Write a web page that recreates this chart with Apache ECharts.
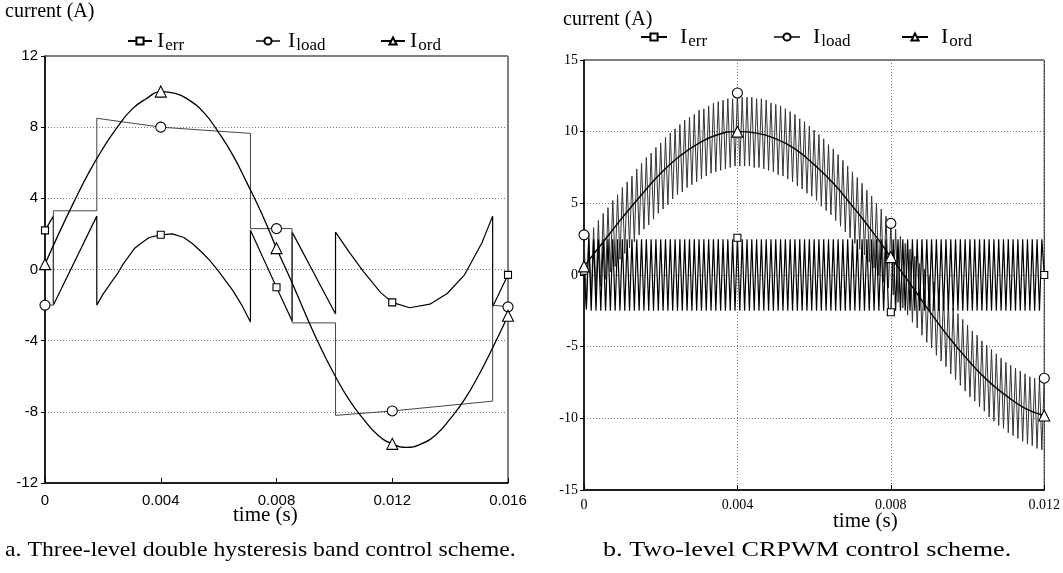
<!DOCTYPE html>
<html><head><meta charset="utf-8">
<script src="https://cdn.jsdelivr.net/npm/echarts/dist/echarts.min.js"></script>
<style>html,body{margin:0;padding:0;background:#fff}#c{width:1063px;height:573px}</style>
</head><body><div id="c"></div>
<script>
// ---------- Panel a: three-level double hysteresis band ----------
const leftOrdT = [0,0.0005,0.001,0.0015,0.002,0.0025,0.003,0.0035,0.004,0.0045,0.005,0.0055,0.006,0.0065,0.007,0.0075,0.008,0.0085,0.009,0.0095,0.010,0.0105,0.011,0.0115,0.012,0.0125,0.013,0.0135,0.014,0.0145,0.015,0.0155,0.016];
const leftOrd  = [0.3,2.1,3.8,5.4,6.8,8.0,9.0,9.6,10.0,9.9,9.5,8.8,7.7,6.4,4.8,3.1,1.2,-0.6,-2.5,-4.3,-5.9,-7.3,-8.4,-9.3,-9.8,-10.0,-9.8,-9.3,-8.4,-7.3,-5.9,-4.3,-2.6];

const leftErrT = [0,0.00029,0.00029,0.00179,0.00179,0.002,0.0023,0.0025,0.0027,0.0031,0.0033,0.0036,0.004,0.0044,0.0048,0.0051,0.0054,0.0057,0.006,0.0065,0.0068,0.0071,0.0071,0.008,0.00854,0.00854,0.01004,0.01004,0.0105,0.011,0.0116,0.012,0.0126,0.0133,0.0139,0.0145,0.0151,0.01547,0.01547,0.016];
const leftErr  = [2.2,3.0,-2.0,3.0,-2.0,-1.4,-0.7,-0.25,0.3,1.2,1.45,1.8,1.95,2.0,1.8,1.45,1.0,0.5,-0.1,-1.2,-2.0,-2.95,2.2,-1.0,-2.9,2.1,-2.5,2.1,1.0,-0.1,-1.3,-1.85,-2.15,-1.95,-1.35,-0.3,1.5,3.0,-2.1,-0.3];

const leftLoadT = [0,0.00029,0.00029,0.00179,0.00179,0.004,0.0071,0.0071,0.008,0.00854,0.00854,0.01004,0.01004,0.012,0.01547,0.01547,0.016];
const leftLoad  = [-2.0,-2.0,3.3,3.3,8.5,8.0,7.65,2.3,2.3,2.3,-3.0,-3.0,-8.2,-7.95,-7.4,-2.0,-2.1];

const leftTicks = [0,0.004,0.008,0.012,0.016];

// ---------- Panel b: two-level CRPWM ----------
const rightStep = 0.0000625; // sampling step of the ripple traces
const rightErr = [
 0.3,-2.4,2.5,-2.5,2.5,-2.5,2.5,-2.5,2.5,-2.5,2.5,-2.5,2.5,-2.5,2.5,-2.5,
 2.5,-2.5,2.5,-2.5,2.5,-2.5,2.5,-2.5,2.5,-2.5,2.5,-2.5,2.5,-2.5,2.5,-2.5,
 2.5,-2.5,2.5,-2.5,2.5,-2.5,2.5,-2.5,2.5,-2.5,2.5,-2.5,2.5,-2.5,2.5,-2.5,
 2.5,-2.5,2.5,-2.5,2.5,-2.5,2.5,-2.5,2.5,-2.5,2.5,-2.5,2.5,-2.5,2.5,-2.5,
 2.6,-2.5,2.5,-2.5,2.5,-2.5,2.5,-2.5,2.5,-2.5,2.5,-2.5,2.5,-2.5,2.5,-2.5,
 2.5,-2.5,2.5,-2.5,2.5,-2.5,2.5,-2.5,2.5,-2.5,2.5,-2.5,2.5,-2.5,2.5,-2.5,
 2.5,-2.5,2.5,-2.5,2.5,-2.5,2.5,-2.5,2.5,-2.5,2.5,-2.5,2.5,-2.5,2.5,-2.5,
 2.5,-2.5,2.5,-2.5,2.5,-2.5,2.5,-2.5,2.5,-2.5,2.5,-2.5,2.5,-2.5,2.5,-2.5,
 -2.6,2.5,-2.5,2.5,-2.5,2.5,-2.5,2.5,-2.5,2.5,-2.5,2.5,-2.5,2.5,-2.5,2.5,
 -2.5,2.5,-2.5,2.5,-2.5,2.5,-2.5,2.5,-2.5,2.5,-2.5,2.5,-2.5,2.5,-2.5,2.5,
 -2.5,2.5,-2.5,2.5,-2.5,2.5,-2.5,2.5,-2.5,2.5,-2.5,2.5,-2.5,2.5,-2.5,2.5,
 -2.5,2.5,-2.5,2.5,-2.5,2.5,-2.5,2.5,-2.5,2.5,-2.5,2.5,-2.5,2.5,-2.5,2.5,
 0.0];
const rightLoad = [
 2.8,-2.2,2.9,-1.7,3.3,-1.2,3.8,-0.8,4.3,-0.3,4.7,0.2,5.2,0.6,5.6,1.1,
 6.1,1.5,6.5,1.9,6.9,2.3,7.4,2.8,7.8,3.2,8.2,3.5,8.5,3.9,8.9,4.3,
 9.2,4.6,9.6,4.9,9.9,5.3,10.2,5.6,10.5,5.8,10.8,6.1,11.0,6.3,11.2,6.5,
 11.5,6.7,11.6,6.9,11.8,7.1,12.0,7.2,12.1,7.3,12.2,7.4,12.3,7.5,12.3,7.6,
 12.7,7.6,12.4,7.6,12.4,7.6,12.4,7.5,12.3,7.5,12.3,7.4,12.2,7.3,12.0,7.2,
 11.9,7.0,11.8,6.9,11.6,6.7,11.4,6.5,11.2,6.2,10.9,6.0,10.7,5.7,10.4,5.5,
 10.1,5.2,9.8,4.8,9.5,4.5,9.1,4.2,8.8,3.8,8.4,3.4,8.0,3.0,7.6,2.6,
 7.2,2.2,6.8,1.8,6.4,1.4,5.9,0.9,5.5,0.5,5.0,0.0,4.6,-0.5,4.1,-0.9,
 3.6,-1.4,3.2,-1.9,2.7,-2.3,2.2,-2.8,1.8,-3.3,1.3,-3.7,0.8,-4.2,0.4,-4.7,
 -0.1,-5.1,-0.5,-5.6,-1.0,-6.0,-1.4,-6.4,-1.9,-6.9,-2.3,-7.3,-2.7,-7.7,-3.1,-8.1,
 -3.5,-8.5,-3.9,-8.8,-4.2,-9.2,-4.6,-9.5,-4.9,-9.9,-5.2,-10.2,-5.5,-10.5,-5.8,-10.7,
 -6.1,-11.0,-6.3,-11.2,-6.5,-11.4,-6.7,-11.6,-6.9,-11.8,-7.1,-11.9,-7.2,-12.1,-7.3,-12.2,
 -7.2];
const rightOrdT = [0,0.0005,0.001,0.0015,0.002,0.0025,0.003,0.0035,0.004,0.0045,0.005,0.0055,0.006,0.0065,0.007,0.0075,0.008,0.0085,0.009,0.0095,0.010,0.0105,0.011,0.0115,0.012];
const rightOrd  = [0.6,2.3,4.0,5.6,7.1,8.3,9.2,9.8,10.0,9.9,9.5,8.8,7.7,6.4,4.8,3.1,1.25,-0.6,-2.5,-4.3,-5.9,-7.3,-8.4,-9.3,-9.8];
const rightTicks = [0,0.004,0.008,0.012];

// ---------- build ----------
const rightT = rightErr.map((_, i) => i * rightStep);
const SYM = {
  I_err:  {symbol:'rect', size:7},
  I_load: {symbol:'circle', size:10},
  I_ord:  {symbol:'triangle', size:11}
};
function mk(name, ax, ts, vs, marks, lineColor, lineWidth, smooth, z) {
  const idx = marks.map(m => ts.findIndex(t => Math.abs(t - m) < 1e-9));
  return {
    name, type:'line', xAxisIndex:ax, yAxisIndex:ax, smooth: !!smooth,
    symbol: SYM[name].symbol, symbolSize: SYM[name].size, showAllSymbol:true,
    data: ts.map((t, i) => ({value:[t, vs[i]], symbolSize: idx.includes(i) ? SYM[name].size : 0})),
    lineStyle:{color:lineColor, width:lineWidth},
    itemStyle:{color:'#fff', borderColor:'#000', borderWidth:1.1},
    emphasis:{disabled:true}, z: z || 3
  };
}
const serif = 'Liberation Serif';
const sans = 'Liberation Sans';
function legend(name, left, top, iw, pad) {
  return {
    data:[name], left, top, padding:0, itemWidth:iw, itemHeight:9, selectedMode:false,
    formatter: n => '{a|I}{b|' + n.split('_')[1] + '}',
    textStyle:{color:'#000', rich:{
      a:{fontFamily:serif, fontSize:22, color:'#000', padding:[0,0,0,pad]},
      b:{fontFamily:serif, fontSize:17, color:'#000', padding:[9,0,0,1]}
    }}
  };
}
const gridLine = {show:true, lineStyle:{color:'#777', type:[1,2], width:1}};
const chart = echarts.init(document.getElementById('c'), null, {renderer:'canvas'});
chart.setOption({
  animation:false,
  backgroundColor:'#fff',
  grid:[
    {left:45, top:56, width:463, height:427, show:true, borderColor:'#000', borderWidth:1},
    {left:584, top:60, width:472, height:430, show:true, borderColor:'#000', borderWidth:1}
  ],
  legend:[
    legend('I_err',127,30,24,0), legend('I_load',255,30,24,3), legend('I_ord',380,30,24,0),
    legend('I_err',640,26,26,8), legend('I_load',773,26,26,8), legend('I_ord',901,26,26,8)
  ],
  xAxis:[
    {gridIndex:0, type:'value', min:0, max:0.016, interval:0.004,
     axisLine:{onZero:false, lineStyle:{color:'#000', width:1.5}}, axisTick:{inside:true, length:5, lineStyle:{color:'#000'}},
     splitLine:{show:false},
     axisLabel:{fontFamily:sans, fontSize:15, color:'#000', margin:10,
       formatter: v => { const k = leftTicks.findIndex(t => Math.abs(t-v)<1e-9); return k===0 ? '0' : String(leftTicks[k]); }}},
    {gridIndex:1, type:'value', min:0, max:0.012, interval:0.004,
     axisLine:{onZero:false, lineStyle:{color:'#000', width:1.5}}, axisTick:{inside:true, length:5, lineStyle:{color:'#000'}},
     splitLine:gridLine,
     axisLabel:{fontFamily:serif, fontSize:14, color:'#000', margin:8,
       formatter: v => { const k = rightTicks.findIndex(t => Math.abs(t-v)<1e-9); return k===0 ? '0' : String(rightTicks[k]); }}}
  ],
  yAxis:[
    {gridIndex:0, type:'value', min:-12, max:12, interval:4,
     axisLine:{show:true, onZero:false, lineStyle:{color:'#000', width:1.5}}, axisTick:{show:true, length:4, lineStyle:{color:'#000'}},
     splitLine:gridLine,
     axisLabel:{fontFamily:sans, fontSize:15, color:'#000', margin:7}},
    {gridIndex:1, type:'value', min:-15, max:15, interval:5,
     axisLine:{show:true, onZero:false, lineStyle:{color:'#000', width:1.5}}, axisTick:{show:true, length:4, lineStyle:{color:'#000'}},
     splitLine:gridLine,
     axisLabel:{fontFamily:serif, fontSize:14, color:'#000', margin:6}}
  ],
  series:[
    mk('I_err', 0, leftErrT, leftErr, leftTicks, '#000', 1.2),
    mk('I_load', 0, leftLoadT, leftLoad, leftTicks, '#444', 1),
    mk('I_ord', 0, leftOrdT, leftOrd, leftTicks, '#000', 1.3, true, 4),
    mk('I_load', 1, rightT, rightLoad, rightTicks, '#333', 1),
    mk('I_err', 1, rightT, rightErr, rightTicks, '#000', 1.2),
    mk('I_ord', 1, rightOrdT, rightOrd, rightTicks, '#000', 1.4, true, 4)
  ],
  graphic:[
    {type:'text', left:5, top:2, style:{text:'current (A)', font:'20px "Liberation Serif"', fill:'#000'}},
    {type:'text', left:563, top:10, style:{text:'current (A)', font:'20px "Liberation Serif"', fill:'#000'}},
    {type:'text', left:233, top:505, style:{text:'time (s)', font:'21px "Liberation Serif"', fill:'#000'}},
    {type:'text', left:833, top:511, style:{text:'time (s)', font:'21px "Liberation Serif"', fill:'#000'}},
    {type:'text', x:5, y:539, scaleX:1.08, style:{text:'a. Three-level double hysteresis band control scheme.', font:'22px "Liberation Serif"', fill:'#000', textVerticalAlign:'top', verticalAlign:'top'}},
    {type:'text', x:603, y:539, scaleX:1.19, style:{text:'b. Two-level CRPWM control scheme.', font:'22px "Liberation Serif"', fill:'#000', textVerticalAlign:'top', verticalAlign:'top'}}
  ]
});
</script>
</body></html>
